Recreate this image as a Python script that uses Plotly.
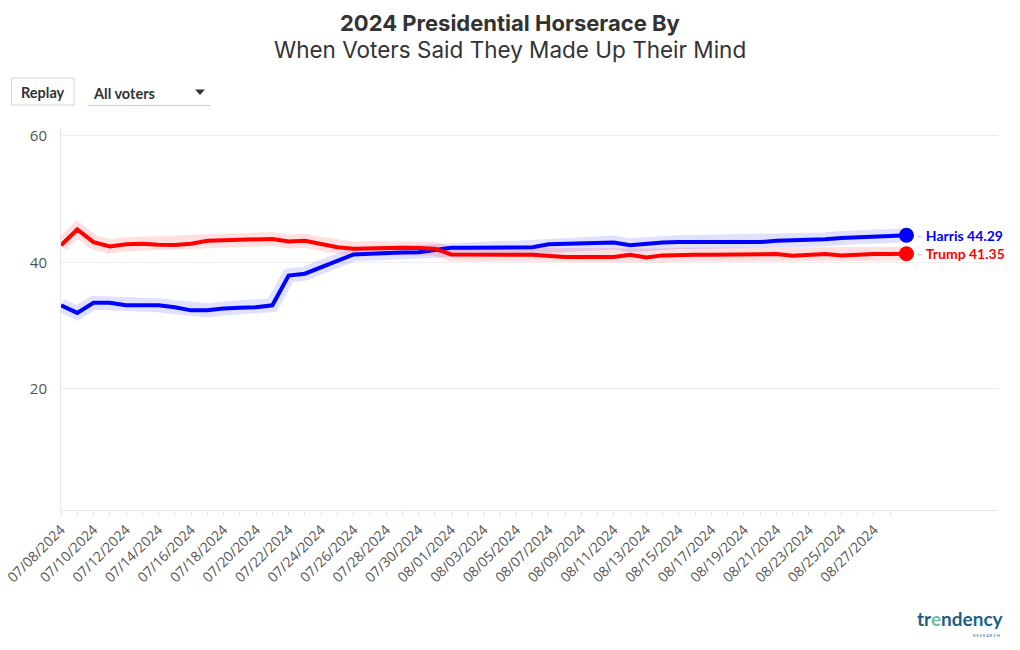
import pandas as pd
import plotly.graph_objects as go

# ---------------- data ----------------
dates = pd.date_range("2024-07-08", "2024-08-29", freq="D")
harris = [33.2, 32.0, 33.6, 33.6, 33.2, 33.2, 33.2, 32.9, 32.4, 32.4, 32.7, 32.8, 32.9, 33.2,
          37.9, 38.2, 39.25, 40.3, 41.25, 41.35, 41.5, 41.55, 41.6, 42.0, 42.3, 42.3, 42.3,
          42.27, 42.3, 42.4, 42.85, 42.95, 42.95, 43.05, 43.15, 42.7, 43.0, 43.15, 43.2,
          43.2, 43.2, 43.2, 43.1, 43.2, 43.4, 43.5, 43.45, 43.65, 43.85, 44.0, 44.1, 44.15, 44.29]
trump = [42.7, 45.2, 43.2, 42.5, 42.85, 42.95, 42.8, 42.75, 42.95, 43.4, 43.5, 43.6, 43.6, 43.7,
         43.3, 43.4, 42.9, 42.4, 42.15, 42.25, 42.3, 42.3, 42.25, 42.15, 41.25, 41.2, 41.2,
         41.2, 41.2, 41.2, 41.0, 40.85, 40.85, 40.9, 40.85, 41.2, 40.75, 41.1, 41.2, 41.2,
         41.2, 41.2, 41.2, 41.35, 41.3, 41.05, 41.1, 41.3, 41.1, 41.25, 41.3, 41.3, 41.35]
series_names = ["Harris", "Trump"]
series_colors = ["#0000ff", "#ff0000"]
halo_colors = ["rgba(0,0,255,0.12)", "rgba(255,0,0,0.12)"]
tick_dates = list(dates[:51:2])            # labelled ticks 07/08 .. 08/27
minor_dates = list(dates[:52])             # daily ticks 07/08 .. 08/28
y_ticks = [20, 40, 60]

# ---------------- geometry helpers ----------------
W, H = 1020, 650
L, R, T, B = 61, 22, 128, 140
PW, PH = W - L - R, H - T - B


def px(x):
    return (x - L) / PW


def py(y):
    return (H - B - y) / PH


fig = go.Figure()
for name, vals, col, halo in zip(series_names, [harris, trump], series_colors, halo_colors):
    fig.add_trace(go.Scatter(x=dates, y=vals, mode="lines", line=dict(color=halo, width=14),
                             hoverinfo="skip", showlegend=False))
for name, vals, col, halo in zip(series_names, [harris, trump], series_colors, halo_colors):
    fig.add_trace(go.Scatter(x=dates, y=vals, mode="lines", name=name,
                             line=dict(color=col, width=4), showlegend=False))
    fig.add_trace(go.Scatter(x=[dates[-1]], y=[vals[-1]], mode="markers",
                             marker=dict(color=col, size=15), showlegend=False, hoverinfo="skip"))
    fig.add_annotation(x=dates[-1], y=vals[-1], xref="x", yref="y", xanchor="left", yanchor="middle",
                       xshift=9, showarrow=False,
                       text=f"<span style='color:#bbbbbb'>-</span> <b>{name} {vals[-1]:.2f}</b>",
                       font=dict(family="Lato", size=14, color=col))

x_end = dates[0] + pd.Timedelta(days=57.63)
fig.update_xaxes(
    type="date", range=[dates[0], x_end],
    tickmode="array", tickvals=tick_dates, ticktext=[d.strftime("%m/%d/%Y") for d in tick_dates],
    tickangle=-45, tickfont=dict(family="Open Sans", size=14, color="#555555"),
    ticks="outside", ticklen=5, tickcolor="#e6e6e6",
    minor=dict(tickmode="array", tickvals=minor_dates, ticks="outside", ticklen=5, tickcolor="#e6e6e6"),
    showgrid=False, showline=True, linecolor="#e6e6e6", linewidth=1, zeroline=False,
    automargin=False,
)
fig.update_yaxes(
    range=[0.8, 61.26], tickvals=y_ticks, tickfont=dict(family="Open Sans", size=15, color="#555555"),
    showgrid=True, gridcolor="#eeeeee", gridwidth=1, showline=True, linecolor="#e6e6e6",
    zeroline=False, ticks="", ticklabelstandoff=10, automargin=False,
)


def label(x, y, text, size, color="#333333", family="Inter", xanchor="center"):
    fig.add_annotation(x=px(x), y=py(y), xref="paper", yref="paper", showarrow=False,
                       xanchor=xanchor, yanchor="middle", text=text,
                       font=dict(family=family, size=size, color=color))


# Title
label(510, 23, "<b>2024 Presidential Horserace By</b>", 22)
label(510, 50, "When Voters Said They Made Up Their Mind", 22.5)

# Replay button & dropdown (decorative controls)
fig.add_shape(type="rect", xref="paper", yref="paper", x0=px(11.5), x1=px(74), y0=py(78), y1=py(105),
              line=dict(color="#d4d4d4", width=1), fillcolor="white")
label(42.5, 92, "<b>Replay</b>", 14.5, family="Lato")
label(91, 93, "<b>All voters</b>", 14.5, family="Lato", xanchor="left")
fig.add_shape(type="line", xref="paper", yref="paper", x0=px(88), x1=px(210), y0=py(105.5), y1=py(105.5),
              line=dict(color="#cccccc", width=1))
fig.add_shape(type="path", xref="paper", yref="paper",
              path=f"M {px(195)} {py(89.5)} L {px(205)} {py(89.5)} L {px(200)} {py(95)} Z",
              line=dict(width=0), fillcolor="#333333")

# Logo
label(1006, 618, "<b>tr<span style='color:#6fbf9a'>e</span>ndency</b>", 19, color="#1c5f86",
      family="Lato", xanchor="right")
label(1002, 635, "R E S E A R C H", 4, color="#1c5f86", family="Lato", xanchor="right")

fig.update_layout(
    width=W, height=H, margin=dict(l=L, r=R, t=T, b=B, autoexpand=False),
    paper_bgcolor="white", plot_bgcolor="white", showlegend=False,
    font=dict(family="Lato", color="#333333"),
)
fig.write_html("out.html", config={"displayModeBar": False},
               post_script="document.body.style.margin='0';")
